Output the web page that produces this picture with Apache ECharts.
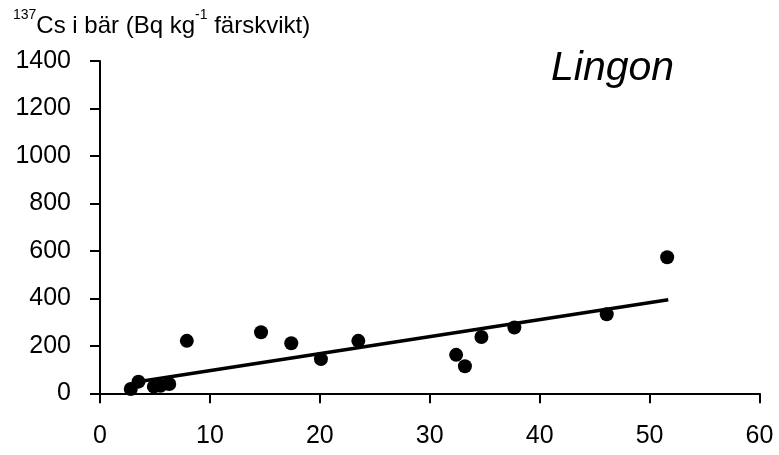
<!DOCTYPE html>
<html>
<head>
<meta charset="utf-8">
<script src="https://cdn.jsdelivr.net/npm/echarts@6/dist/echarts.min.js"></script>
<style>
  html, body { margin: 0; padding: 0; background: #fff; }
  #chart { width: 779px; height: 455px; }
</style>
</head>
<body>
<div id="chart"></div>
<script>
// mätpunkter (x = okänd variabel, y = 137Cs i bär)
var xValues = [2.8, 3.5, 4.9, 5.5, 6.3, 7.9, 14.65, 17.4, 20.1, 23.5, 32.4, 33.2, 34.7, 37.7, 46.1, 51.6];
var yValues = [18, 49, 28, 32, 39, 221, 257, 211, 144, 221, 162, 114, 237, 277, 333, 573];
// regressionslinje, ändpunkter
var lineX = [3.9, 51.7];
var lineY = [52, 394];
var xTicks = [0, 60, 10];
var yTicks = [0, 1400, 200];

var points = xValues.map(function (x, i) { return [x, yValues[i]]; });
var linePoints = lineX.map(function (x, i) { return [x, lineY[i]]; });

var font = 'Liberation Sans, Arial, sans-serif';
var myChart = echarts.init(document.getElementById('chart'));

myChart.setOption({
    animation: false,
    backgroundColor: '#fff',
    title: [{
        text: '{sup|137}{n|Cs i bär (Bq kg}{sup|-1}{n| färskvikt)}',
        left: 8,
        top: 3,
        textStyle: {
            rich: {
                n: { fontFamily: font, fontSize: 24, fontWeight: 'normal', color: '#000', lineHeight: 30, verticalAlign: 'bottom' },
                sup: { fontFamily: font, fontSize: 14, fontWeight: 'normal', color: '#000', lineHeight: 30, verticalAlign: 'top' }
            }
        }
    }, {
        text: 'Lingon',
        left: 546,
        top: 43,
        textStyle: { fontFamily: font, fontSize: 41, fontStyle: 'italic', fontWeight: 'normal', color: '#000' }
    }],
    grid: { left: 100, right: 19.5, top: 61, bottom: 61.7 },
    xAxis: {
        type: 'value',
        min: xTicks[0], max: xTicks[1], interval: xTicks[2],
        splitLine: { show: false },
        axisLine: { onZero: false, lineStyle: { color: '#000', width: 2 } },
        axisTick: { show: true, length: 10, lineStyle: { color: '#000', width: 2 } },
        axisLabel: { margin: 30, fontFamily: font, fontSize: 25, color: '#000', formatter: function (v) { return String(v); } }
    },
    yAxis: {
        type: 'value',
        min: yTicks[0], max: yTicks[1], interval: yTicks[2],
        splitLine: { show: false },
        axisLine: { show: true, onZero: false, lineStyle: { color: '#000', width: 2 } },
        axisTick: { show: true, length: 10, lineStyle: { color: '#000', width: 2 } },
        axisLabel: { margin: 29, fontFamily: font, fontSize: 25, color: '#000', formatter: function (v) { return String(v); } }
    },
    series: [{
        type: 'line',
        data: linePoints,
        symbol: 'none',
        lineStyle: { color: '#000', width: 3.5 },
        z: 2
    }, {
        type: 'scatter',
        data: points,
        symbol: 'circle',
        symbolSize: 14,
        itemStyle: { color: '#000', opacity: 1 },
        z: 3
    }]
});
</script>
</body>
</html>
